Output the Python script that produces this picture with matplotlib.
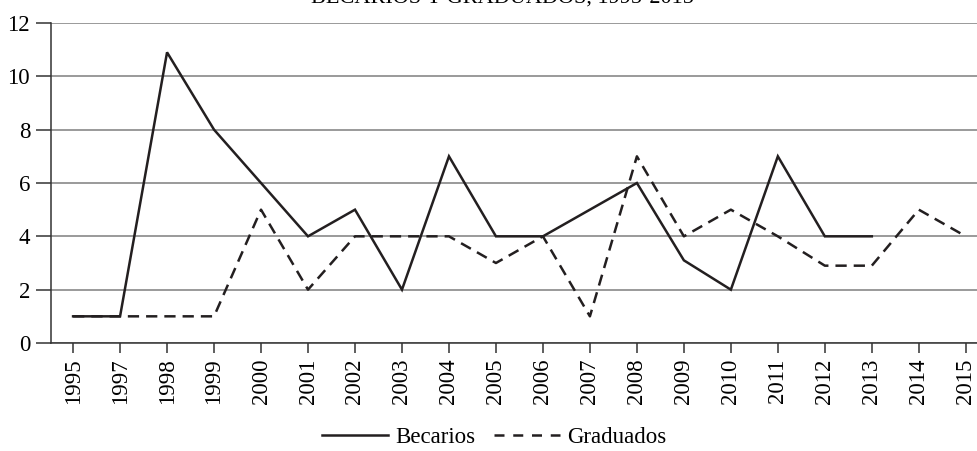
import matplotlib
matplotlib.use("Agg")
import matplotlib.pyplot as plt
import numpy as np

years = ["1995", "1997", "1998", "1999", "2000", "2001", "2002", "2003", "2004", "2005",
         "2006", "2007", "2008", "2009", "2010", "2011", "2012", "2013", "2014", "2015"]
becarios = [1, 1, 10.9, 8, 6, 4, 5, 2, 7, 4, 4, 5, 6, 3.1, 2, 7, 4, 4, None, None]
graduados = [1, 1, 1, 1, 5, 2, 4, 4, 4, 3, 4, 1, 7, 4, 5, 4, 2.9, 2.9, 5, 4]
title = "BECARIOS Y GRADUADOS, 1995-2015"

plt.rcParams['font.family'] = ['Liberation Serif', 'DejaVu Serif']

W, H = 978, 451
fig = plt.figure(figsize=(W / 100, H / 100), dpi=100)
ax = fig.add_axes([51 / W, 1 - 343 / H, (978 - 51) / W, (343 - 23) / H])

x = np.arange(len(years))
b = np.array([np.nan if v is None else v for v in becarios], dtype=float)
g = np.array(graduados, dtype=float)

ax.plot(x, b, color='#231f20', lw=1.8, label='Becarios', solid_joinstyle='miter')
ax.plot(x, g, color='#231f20', lw=1.8, ls=(0, (4.5, 2.8)), label='Graduados')

ax.set_xlim(-0.47, 19.26)
ax.set_ylim(0, 12)
ax.set_yticks(range(0, 13, 2))
ax.set_xticks(x)
ax.set_xticklabels(years, rotation=90)
ax.yaxis.grid(True, color='#7f7f7f', lw=1.1)
ax.set_axisbelow(True)
for s in ['top', 'right']:
    ax.spines[s].set_visible(False)
for s in ['left', 'bottom']:
    ax.spines[s].set_color('#333333')
    ax.spines[s].set_linewidth(1.1)
ax.tick_params(axis='both', labelsize=16.5, color='#333333', width=1.1)
ax.tick_params(axis='y', length=11, pad=4)
ax.tick_params(axis='x', length=7, pad=4)

leg = fig.legend(loc='center', bbox_to_anchor=(494 / W, 1 - 437 / H), ncol=2, frameon=False,
                 fontsize=16.5, handlelength=2.9, handletextpad=0.3, columnspacing=0.8)
leg.get_lines()[1].set_linestyle((0, (4.0, 3.5)))

fig.text(502 / W, 1 - 2.5 / H, title, ha='center', va='baseline', fontsize=16)

fig.savefig("out.png", dpi=100)
